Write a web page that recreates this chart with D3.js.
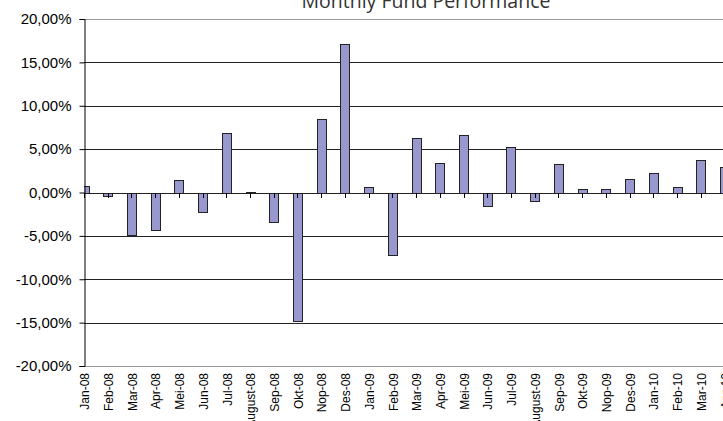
<!DOCTYPE html>
<html>
<head>
<meta charset="utf-8">
<script src="https://cdn.jsdelivr.net/npm/d3@7"></script>
<style>
  body { margin: 0; background: #fff; }
  svg { display: block; }
</style>
</head>
<body>
<svg width="723" height="421"></svg>
<script>
const months = ['Jan-08', 'Feb-08', 'Mar-08', 'Apr-08', 'Mei-08', 'Jun-08', 'Jul-08', 'August-08',
  'Sep-08', 'Okt-08', 'Nop-08', 'Des-08', 'Jan-09', 'Feb-09', 'Mar-09', 'Apr-09', 'Mei-09',
  'Jun-09', 'Jul-09', 'August-09', 'Sep-09', 'Okt-09', 'Nop-09', 'Des-09', 'Jan-10', 'Feb-10',
  'Mar-10', 'Apr-10']
const returns = [0.7, -0.45, -4.9, -4.3, 1.4, -2.2, 6.85, 0.1, -3.45, -14.8, 8.45, 17.1, 0.6,
  -7.2, 6.3, 3.4, 6.6, -1.6, 5.3, -0.95, 3.3, 0.35, 0.35, 1.5, 2.3, 0.6, 3.7, 2.9]
const yTicks = [-20, -15, -10, -5, 0, 5, 10, 15, 20]

const plotLeft = 84, plotTop = 19, plotBottom = 366, step = 23.72, barW = 9

const svg = d3.select('svg')

const locale = d3.formatLocale({decimal: ',', thousands: '.', grouping: [3], currency: ['', ''], minus: '-'})
const fmt = locale.format('.2f')

const x = d3.scalePoint().domain(months).range([plotLeft, plotLeft + step * (months.length - 1)])
const y = d3.scaleLinear().domain([-20, 20]).range([plotBottom, plotTop])

// title (cut off at top like the original)
svg.append('text')
  .attr('x', 426).attr('y', 8)
  .attr('text-anchor', 'middle')
  .style('font-family', '"Open Sans"').style('font-size', '19.5px').style('fill', '#333')
  .text('Monthly Fund Performance')

// gridlines
svg.append('g').selectAll('line').data(yTicks).enter().append('line')
  .attr('x1', plotLeft).attr('x2', 723)
  .attr('y1', d => Math.round(y(d)) + 0.5).attr('y2', d => Math.round(y(d)) + 0.5)
  .attr('stroke', d => (d === 20 || d === -20) ? '#999' : '#222')
  .attr('stroke-width', 1)

// bars
svg.append('clipPath').attr('id', 'plot').append('rect')
  .attr('x', plotLeft).attr('y', 0).attr('width', 723 - plotLeft).attr('height', 421)

svg.append('g').attr('clip-path', 'url(#plot)')
  .selectAll('rect').data(returns).enter().append('rect')
  .attr('x', (d, i) => Math.round(x(months[i]) - barW / 2) + 0.5)
  .attr('y', d => Math.round(y(Math.max(0, d))) + 0.5)
  .attr('width', barW)
  .attr('height', d => Math.max(1, Math.abs(Math.round(y(0)) - Math.round(y(d)))))
  .attr('fill', '#9898cf').attr('stroke', '#222').attr('stroke-width', 1)

// x ticks along the zero line
svg.append('g').selectAll('line').data(months).enter().append('line')
  .attr('x1', d => Math.round(x(d)) + 0.5).attr('x2', d => Math.round(x(d)) + 0.5)
  .attr('y1', Math.round(y(0))).attr('y2', Math.round(y(0)) + 5)
  .attr('stroke', '#000')

// y axis
const yAxis = d3.axisLeft(y).tickValues(yTicks).tickSize(5).tickFormat(d => fmt(d) + '%')
const ya = svg.append('g').attr('transform', `translate(${plotLeft + 0.5},0)`).call(yAxis)
ya.select('.domain').attr('stroke', '#000')
ya.selectAll('.tick line').attr('stroke', '#000')
ya.selectAll('text')
  .attr('x', -13)
  .style('font-family', '"Liberation Sans", Arial').style('font-size', '15px').style('fill', '#000')

// x labels
svg.append('g').selectAll('text').data(months).enter().append('text')
  .attr('transform', d => `translate(${x(d) + 1},373) rotate(-90)`)
  .attr('text-anchor', 'end').attr('dy', '0.35em')
  .style('font-family', '"Liberation Sans", Arial').style('font-size', '12px').style('fill', '#000')
  .text(d => d)
</script>
</body>
</html>
